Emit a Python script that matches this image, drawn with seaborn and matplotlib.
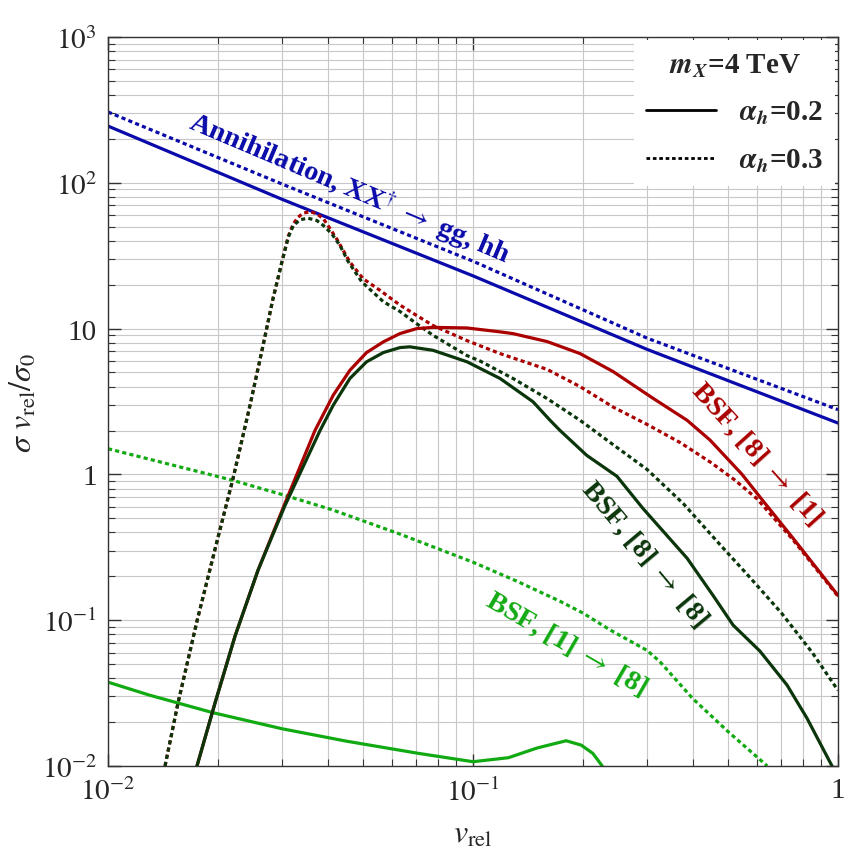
import numpy as np
import pandas as pd
import matplotlib
matplotlib.use("Agg")
import matplotlib.pyplot as plt
from matplotlib.lines import Line2D
from matplotlib.ticker import FixedLocator, FixedFormatter, LogLocator, NullFormatter
import seaborn as sns

# valores (v_rel, sigma v_rel / sigma_0)
ann_x = [0.01, 0.03, 0.1, 0.3, 1.0]
ann_02 = [245, 77, 23, 7.2, 2.25]
ann_03 = [306, 98, 29, 8.6, 2.78]

bsf81_02_x = [0.01753, 0.01964, 0.02228, 0.02576, 0.03053, 0.0369, 0.0414, 0.046, 0.0511,
              0.0568, 0.0631, 0.0701, 0.0777, 0.0963, 0.1186, 0.1287, 0.1596, 0.1965, 0.2418,
              0.31, 0.386, 0.446, 0.546, 0.611, 0.753, 1.0]
bsf81_02 = [0.01, 0.027, 0.0776, 0.22, 0.632, 2.0, 3.49, 5.18, 6.85,
            8.11, 9.25, 10.0, 10.2, 10.1, 9.5, 9.24, 8.15, 6.74, 5.08,
            3.35, 2.35, 1.72, 1.0, 0.70, 0.365, 0.148]

bsf88_02_x = [0.01753, 0.01964, 0.02228, 0.02576, 0.03053, 0.0381, 0.0414, 0.046, 0.0511,
              0.0568, 0.0631, 0.0671, 0.0777, 0.0963, 0.1186, 0.146, 0.1626, 0.1732, 0.205,
              0.248, 0.292, 0.386, 0.4545, 0.516, 0.611, 0.725, 0.822, 0.963]
bsf88_02 = [0.01, 0.027, 0.0776, 0.22, 0.61, 2.0, 2.98, 4.55, 5.92,
            6.85, 7.41, 7.5, 7.1, 5.92, 4.55, 3.15, 2.35, 2.0, 1.35,
            0.97, 0.585, 0.266, 0.148, 0.0925, 0.0614, 0.0359, 0.0213, 0.01]

bsf81_03_x = [0.01433, 0.01555, 0.01753, 0.01989, 0.02201, 0.02449, 0.02659, 0.02831, 0.02997,
              0.0312, 0.0322, 0.0332, 0.0343, 0.0358, 0.0373, 0.0389, 0.0406, 0.0423, 0.0441,
              0.046, 0.05, 0.0556, 0.0631, 0.0701, 0.0777, 0.0963, 0.1186, 0.1596, 0.1965,
              0.2418, 0.30, 0.37, 0.45, 0.52, 0.60, 0.75, 1.0]
bsf81_03 = [0.01, 0.027, 0.0985, 0.3475, 0.94, 2.97, 7.65, 16.0, 28.8,
            43.2, 52.4, 58.2, 62, 63.3, 61.4, 56.7, 48.4, 41.3, 34.4,
            28.6, 22.0, 18.3, 14.5, 12.3, 10.5, 8.27, 6.74, 5.25, 4.0,
            2.9, 2.2, 1.65, 1.2, 0.92, 0.68, 0.36, 0.146]

bsf88_03_x = [0.01433, 0.01555, 0.01753, 0.01989, 0.02201, 0.02449, 0.02659, 0.02831, 0.02997,
              0.0312, 0.0322, 0.0336, 0.0353, 0.0373, 0.0389, 0.041, 0.0432, 0.0454, 0.0496,
              0.0568, 0.0631, 0.0701, 0.0777, 0.0963, 0.1045, 0.1287, 0.16, 0.1965, 0.242,
              0.30, 0.377, 0.465, 0.57, 0.70, 0.85, 1.0]
bsf88_03 = [0.01, 0.027, 0.0985, 0.3475, 0.94, 2.97, 7.65, 16.0, 28.8,
            42.5, 51, 55.8, 57.2, 55.2, 51, 44.8, 37.2, 29.1, 20.9,
            15.3, 13.1, 10.8, 9.0, 6.53, 6.0, 4.55, 3.3, 2.35, 1.6,
            1.08, 0.63, 0.35, 0.2, 0.112, 0.06, 0.033]

bsf18_02_x = [0.01, 0.013, 0.0194, 0.03, 0.045, 0.071, 0.1, 0.125, 0.15, 0.18, 0.198, 0.213, 0.226]
bsf18_02 = [0.0376, 0.0306, 0.0232, 0.018, 0.0148, 0.0122, 0.0107, 0.0114, 0.0133, 0.0149, 0.0139,
            0.0122, 0.01]

bsf18_03_x = [0.01, 0.022, 0.031, 0.0413, 0.063, 0.1, 0.132, 0.173, 0.2, 0.237, 0.3, 0.325, 0.4,
              0.5, 0.64]
bsf18_03 = [1.5, 0.91, 0.71, 0.57, 0.39, 0.25, 0.185, 0.135, 0.112, 0.086, 0.062, 0.052, 0.029,
            0.0172, 0.01]

azul = '#0a0aaa'
vermelho = '#aa0000'
verde_esc = '#0b350b'
verde = '#12aa12'

sns.set_theme(style='ticks')
plt.rcParams['font.family'] = ['Liberation Serif', 'DejaVu Serif']
plt.rcParams['mathtext.fontset'] = 'stix'

fig = plt.figure(figsize=(8.65, 8.53), dpi=100)
ax = fig.add_axes([108 / 865, 86 / 853, 730 / 865, 729 / 853])

lw = 2.3
pontilhado = (0, (1.3, 1.0))

series = [
    (ann_x, ann_02, azul, '-'),
    (ann_x, ann_03, azul, pontilhado),
    (bsf18_02_x, bsf18_02, verde, '-'),
    (bsf18_03_x, bsf18_03, verde, pontilhado),
    (bsf81_03_x, bsf81_03, vermelho, pontilhado),
    (bsf88_03_x, bsf88_03, verde_esc, pontilhado),
    (bsf81_02_x, bsf81_02, vermelho, '-'),
    (bsf88_02_x, bsf88_02, verde_esc, '-'),
]
for xs, ys, cor, estilo in series:
    df = pd.DataFrame({'v': xs, 's': ys})
    sns.lineplot(data=df, x='v', y='s', ax=ax, color=cor, lw=lw, linestyle=estilo,
                 estimator=None, sort=False)

ax.set_xscale('log')
ax.set_yscale('log')
ax.set_xlim(0.01, 1)
ax.set_ylim(0.01, 1000)

ax.xaxis.set_major_locator(FixedLocator([0.01, 0.1, 1]))
ax.xaxis.set_major_formatter(FixedFormatter([r'$10^{-2}$', r'$10^{-1}$', '1']))
ax.yaxis.set_major_locator(FixedLocator([0.01, 0.1, 1, 10, 100, 1000]))
ax.yaxis.set_major_formatter(FixedFormatter([r'$10^{-2}$', r'$10^{-1}$', '1', '10',
                                             r'$10^{2}$', r'$10^{3}$']))
ax.xaxis.set_minor_locator(LogLocator(base=10, subs=np.arange(2, 10)))
ax.yaxis.set_minor_locator(LogLocator(base=10, subs=np.arange(2, 10)))
ax.xaxis.set_minor_formatter(NullFormatter())
ax.yaxis.set_minor_formatter(NullFormatter())

ax.tick_params(which='both', direction='in', top=True, right=True, labelsize=21, color='#333333')
ax.tick_params(which='major', length=9, width=1.0, pad=8)
ax.tick_params(which='minor', length=5, width=0.8)
ax.grid(True, which='both', color='#c8c8c8', lw=0.8)
ax.set_axisbelow(True)
for sp in ax.spines.values():
    sp.set_color('#333333')
    sp.set_linewidth(1.0)

ax.set_xlabel(r'$v_{\rm rel}$', fontsize=23, labelpad=10)
ax.set_ylabel(r'$\sigma\ v_{\rm rel}/\sigma_0$', fontsize=23, labelpad=2)

# rotulos das curvas
fonte = dict(fontsize=20.5, fontweight='bold', ha='center', va='center',
             family=['Liberation Serif', 'DejaVu Serif'])
seta = r' $\rightarrow$ '
ax.text(0.046, 93, 'Annihilation, XX$^{\\dagger}$' + seta + 'gg, hh', color=azul, rotation=-23, **fonte)
ax.text(0.6, 1.4, 'BSF, [8]' + seta + '[1]', color=vermelho, rotation=-48, **fonte)
ax.text(0.296, 0.29, 'BSF, [8]' + seta + '[8]', color=verde_esc, rotation=-50, **fonte)
ax.text(0.18, 0.07, 'BSF, [1]' + seta + '[8]', color=verde, rotation=-30, **fonte)

handles = [Line2D([], [], color='black', lw=2.0, linestyle='-'),
           Line2D([], [], color='black', lw=2.0, linestyle=pontilhado)]
leg = ax.legend(handles, [r'$\mathbfit{\alpha_h}$=0.2', r'$\mathbfit{\alpha_h}$=0.3'],
                title=r'$\mathbfit{m_X}$=4 TeV', loc='upper right', fontsize=20,
                title_fontsize=20, frameon=True, framealpha=1, edgecolor='none',
                fancybox=False, borderaxespad=0.1, handlelength=2.4, labelspacing=0.7,
                prop={'weight': 'bold', 'size': 21})
leg.get_title().set_fontweight('bold')
leg.get_title().set_fontsize(21)

fig.savefig('out.png', dpi=100)
